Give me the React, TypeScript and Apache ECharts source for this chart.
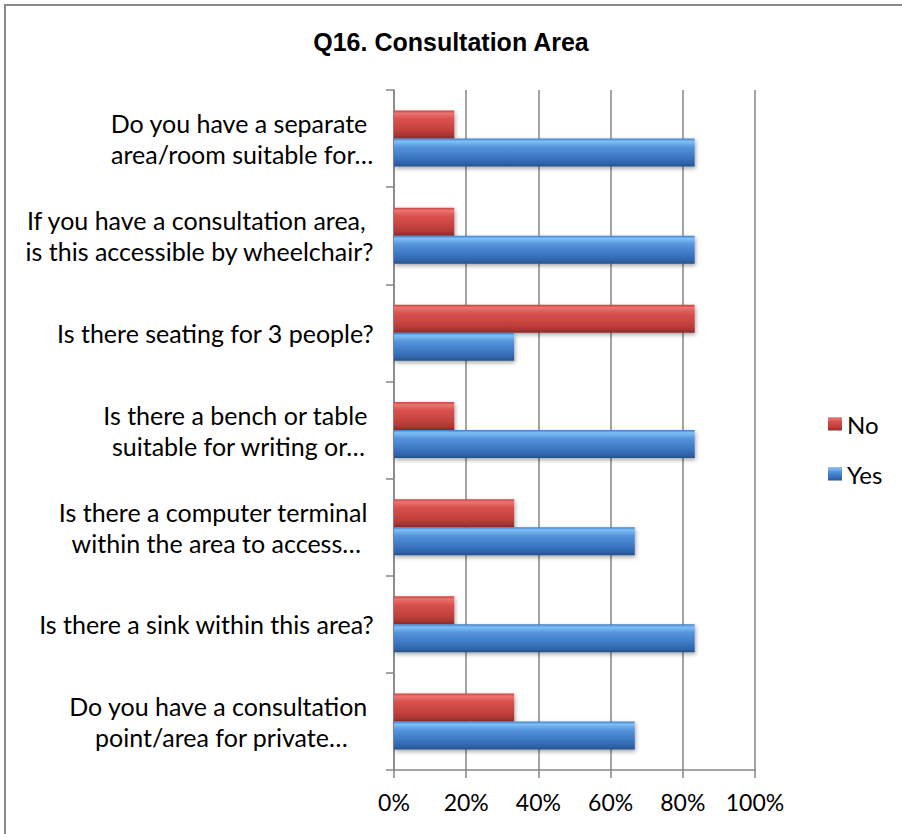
import React, { useEffect, useRef } from "react";
import * as echarts from "echarts";

const categories = [
  "Do you have a separate \narea/room suitable for…",
  "If you have a consultation area, \nis this accessible by wheelchair?",
  "Is there seating for 3 people?",
  "Is there a bench or table \nsuitable for writing or…",
  "Is there a computer terminal \nwithin the area to access…",
  "Is there a sink within this area?",
  "Do you have a consultation \npoint/area for private…",
];
const noValues = [0.167, 0.167, 0.833, 0.167, 0.333, 0.167, 0.333];
const yesValues = [0.833, 0.833, 0.333, 0.833, 0.667, 0.833, 0.667];
const xTicks = [0, 0.2, 0.4, 0.6, 0.8, 1];
const seriesNames = ["No", "Yes"];
const title = "Q16. Consultation Area";

const LABEL_FONT = "Lato, 'Open Sans', sans-serif";
const GRAY = "#868686";

const redGrad = new echarts.graphic.LinearGradient(0, 0, 0, 1, [
  { offset: 0, color: "#c8423f" },
  { offset: 0.1, color: "#ec7471" },
  { offset: 0.3, color: "#d9514e" },
  { offset: 0.7, color: "#c2403d" },
  { offset: 0.9, color: "#a63532" },
  { offset: 1, color: "#86292a" },
]);
const blueGrad = new echarts.graphic.LinearGradient(0, 0, 0, 1, [
  { offset: 0, color: "#3f7cc8" },
  { offset: 0.1, color: "#80c0f6" },
  { offset: 0.3, color: "#5595dd" },
  { offset: 0.7, color: "#3a74c0" },
  { offset: 0.9, color: "#2f62a6" },
  { offset: 1, color: "#264f86" },
]);

export default function App() {
  const ref = useRef<HTMLDivElement>(null);
  useEffect(() => {
    if (!ref.current) return;
    const chart = echarts.init(ref.current, null, { renderer: "svg" });
    const barStyle = (c: any) => ({
      color: c,
      shadowColor: "rgba(0,0,0,0.35)",
      shadowBlur: 4,
      shadowOffsetX: 1,
      shadowOffsetY: 2,
    });
    chart.setOption({
      animation: false,
      backgroundColor: "#ffffff",
      graphic: [
        {
          type: "rect",
          shape: { x: 5, y: 5, width: 1000, height: 1000 },
          style: { fill: "none", stroke: "#8a8a8a", lineWidth: 2 },
          silent: true,
        },
      ],
      title: {
        text: title,
        left: "center",
        top: 24,
        textStyle: {
          fontFamily: "'Liberation Sans', Arial, sans-serif",
          fontWeight: "bold",
          fontSize: 25,
          color: "#000",
        },
      },
      legend: {
        orient: "vertical",
        left: 828,
        top: 410,
        padding: 0,
        itemWidth: 14,
        itemHeight: 13,
        itemGap: 22,
        icon: "rect",
        data: seriesNames,
        textStyle: { fontFamily: LABEL_FONT, fontSize: 24, color: "#000", lineHeight: 28 },
      },
      grid: { left: 394, top: 90, width: 361, height: 680, containLabel: false },
      xAxis: {
        type: "value",
        min: 0,
        max: 1,
        interval: 0.2,
        axisLine: { show: true, lineStyle: { color: GRAY, width: 1.5 } },
        axisTick: { show: true, length: 8, lineStyle: { color: GRAY, width: 1.5 } },
        splitLine: { show: true, lineStyle: { color: GRAY, width: 1.5 } },
        axisLabel: {
          margin: 20,
          fontFamily: LABEL_FONT,
          fontSize: 23,
          color: "#000",
          formatter: (v: number) =>
            xTicks.some((t) => Math.abs(t - v) < 1e-6) ? Math.round(v * 100) + "%" : "",
        },
      },
      yAxis: {
        type: "category",
        inverse: true,
        data: categories,
        axisLine: { show: true, lineStyle: { color: GRAY, width: 1.5 } },
        axisTick: { show: true, length: 8, lineStyle: { color: GRAY, width: 1.5 } },
        axisLabel: {
          margin: 20,
          align: "right",
          color: "#000",
          fontFamily: LABEL_FONT,
          fontSize: 25,
          lineHeight: 31,
          formatter: (v: string) =>
            v
              .split("\n")
              .map((l) => "{c|" + l + "}")
              .join("\n"),
          rich: {
            c: {
              align: "center",
              fontFamily: LABEL_FONT,
              fontSize: 25,
              lineHeight: 31,
              color: "#000",
            },
          },
        },
      },
      series: [
        {
          name: seriesNames[0],
          type: "bar",
          data: noValues,
          barWidth: 28,
          barGap: "0%",
          itemStyle: barStyle(redGrad),
        },
        {
          name: seriesNames[1],
          type: "bar",
          data: yesValues,
          barWidth: 28,
          barGap: "0%",
          itemStyle: barStyle(blueGrad),
        },
      ],
    });
    return () => chart.dispose();
  }, []);
  return (
    <div
      ref={ref}
      style={{ position: "fixed", left: 0, top: 0, width: 902, height: 834, background: "#fff" }}
    />
  );
}
